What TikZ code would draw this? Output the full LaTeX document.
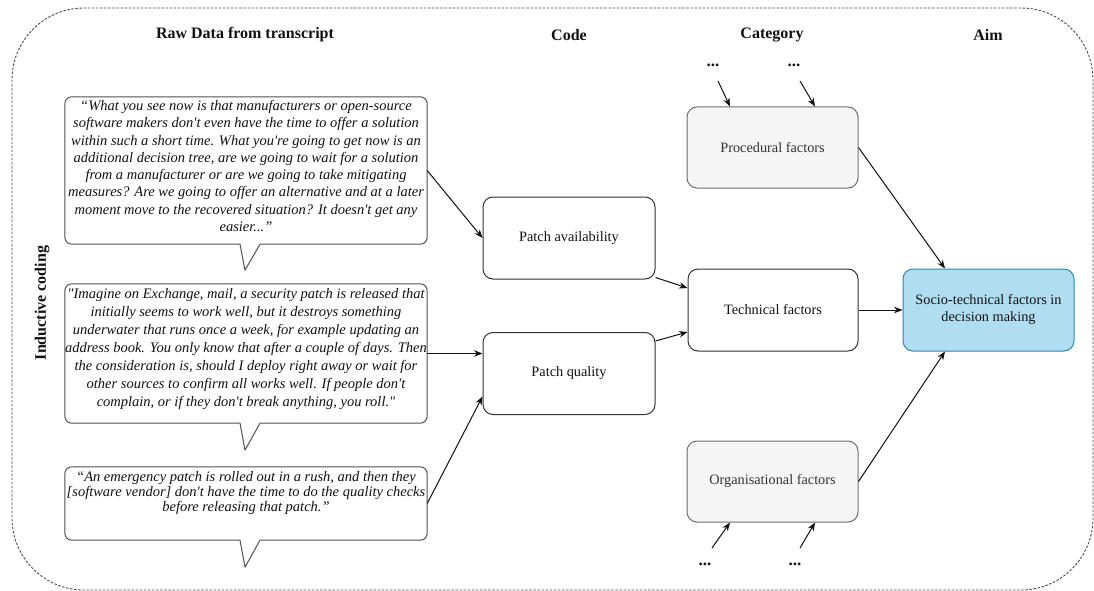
\documentclass[tikz,border=0pt]{standalone}
\usepackage{fontspec}
\setmainfont{Liberation Serif}[Ligatures=TeXOff]
\usetikzlibrary{arrows.meta}

\definecolor{ink}{HTML}{111111}
\definecolor{boxline}{HTML}{333333}
\definecolor{bubbleline}{HTML}{505050}
\definecolor{catfill}{HTML}{F5F5F5}
\definecolor{catline}{HTML}{6E6E6E}
\definecolor{cattext}{HTML}{333333}
\definecolor{aimfill}{HTML}{B1DDF0}
\definecolor{aimline}{HTML}{2E86B0}
\definecolor{frameline}{HTML}{4A4A4A}

\begin{document}
\begin{tikzpicture}[x=1pt,y=-1pt,
  header/.style={font=\fontsize{16}{19}\selectfont\bfseries, text=ink, inner sep=0pt},
  quotetext/.style={font=\fontsize{14.5}{15.3}\selectfont\itshape, align=center, text=ink, inner sep=0pt},
  bubblebox/.style={minimum width=362pt, inner sep=0pt},
  bubbleline/.style={draw=bubbleline, line width=1pt, line join=round},
  codebox/.style={draw=boxline, line width=1pt, rounded corners=10pt, minimum width=172pt, minimum height=82pt,
    font=\fontsize{14.3}{17}\selectfont, text=ink, align=center, fill=white},
  catbox/.style={codebox, draw=catline, fill=catfill, text=cattext},
  aimbox/.style={codebox, draw=aimline, fill=aimfill},
  dots/.style={font=\fontsize{17}{19}\selectfont\bfseries, text=ink, inner sep=0pt},
  link/.style={draw=ink, line width=1pt, -{Stealth[length=8.5pt,width=6.5pt]}}
]
\useasboundingbox (0,0) rectangle (1094,591);

% dashed outer frame of the coding scheme
\draw[frameline, line width=0.9pt, dash pattern=on 2.5pt off 1.6pt, rounded corners=72pt]
  (12,8) rectangle (1093,590);

% column headings
\node[header] (hraw)  at (245,35) {Raw Data from transcript};
\node[header] (hcode) at (569,35) {Code};
\node[header] (hcat)  at (772,35) {Category};
\node[header] (haim)  at (988,35) {Aim};
\node[header, rotate=90] (hind) at (42,303) {Inductive coding};

% speech bubbles holding the transcript quotes
\node[bubblebox, minimum height=147pt] (q1) at (246,170.5) {};
\node[bubblebox, minimum height=139pt] (q2) at (246,353.5) {};
\node[bubblebox, minimum height=73pt]  (q3) at (246,503.5) {};

\foreach \q/\tip in {q1/26, q2/27, q3/27}{
  \coordinate (\q-tl) at ([xshift=-6pt]\q.south);
  \coordinate (\q-tr) at ([xshift=14pt]\q.south);
  \coordinate (\q-tip) at ([xshift=-1pt,yshift=-\tip pt]\q.south);
  \draw[bubbleline, rounded corners=7pt]
    (\q-tl) -- (\q.south west) -- (\q.north west) -- (\q.north east) -- (\q.south east) -- (\q-tr);
  \draw[bubbleline] (\q-tl) -- (\q-tip) -- (\q-tr);
}

\node[quotetext, font=\fontsize{14.5}{17.3}\selectfont\itshape] (t1) at (246,166) {%
“What you see now is that manufacturers or open-source\\
software makers don't even have the time to offer a solution\\
within such a short time. What you're going to get now is an\\
additional decision tree, are we going to wait for a solution\\
from a manufacturer or are we going to take mitigating\\
measures? Are we going to offer an alternative and at a later\\
moment move to the recovered situation? It doesn't get any\\
easier...”};

\node[quotetext, font=\fontsize{14.5}{18}\selectfont\itshape] (t2) at (246,349) {%
"Imagine on Exchange, mail, a security patch is released that\\
initially seems to work well, but it destroys something\\
underwater that runs once a week, for example updating an\\
address book. You only know that after a couple of days. Then\\
the consideration is, should I deploy right away or wait for\\
other sources to confirm all works well. If people don't\\
complain, or if they don't break anything, you roll."};

\node[quotetext] (t3) at (246,493) {%
“An emergency patch is rolled out in a rush, and then they\\
{[}software vendor{]} don't have the time to do the quality checks\\
before releasing that patch.”};

% codes
\node[codebox] (pa) at (569,238) {Patch availability};
\node[codebox] (pq) at (569,373.5) {Patch quality};

% categories
\node[catbox, minimum width=171pt, minimum height=81pt] (proc) at (772.5,147.5) {Procedural factors};
\node[codebox, minimum width=170pt] (tech) at (773,310) {Technical factors};
\node[catbox, minimum width=171pt, minimum height=81pt] (org) at (772.5,481.5) {Organisational factors};

% aim
\node[aimbox, minimum width=171pt] (aim) at (988.5,310) {Socio-technical factors in\\decision making};

% further, elided inputs to the grey categories
\node[dots] (d1) at (713,65) {...};
\node[dots] (d2) at (794,65) {...};
\node[dots] (d3) at (705,564) {...};
\node[dots] (d4) at (795,564) {...};
\coordinate (s1) at (718,81);
\coordinate (s2) at (800,81);
\coordinate (s3) at (712,548);
\coordinate (s4) at (800,548);

% connectors
\draw[link] (q1.east) -- (pa.west);
\draw[link] (q2.east) -- (q2.east -| pq.west);
\draw[link] (q3.east) -- ([yshift=-23pt]pq.west);
\draw[link] ([yshift=2pt]pa.south east) -- ([yshift=22pt]tech.west);
\draw[link] ([yshift=-9pt]pq.north east) -- ([yshift=-22pt]tech.west);
\draw[link] (tech.east) -- (aim.west);
\draw[link] (proc.east) -- ([xshift=-43.5pt]aim.north);
\draw[link] (org.east) -- ([xshift=-43.5pt]aim.south);
\draw[link] (s1) -- ([xshift=-42.5pt]proc.north);
\draw[link] (s2) -- ([xshift=42.5pt]proc.north);
\draw[link] (s3) -- ([xshift=-42.5pt]org.south);
\draw[link] (s4) -- ([xshift=42.5pt]org.south);
\end{tikzpicture}
\end{document}
